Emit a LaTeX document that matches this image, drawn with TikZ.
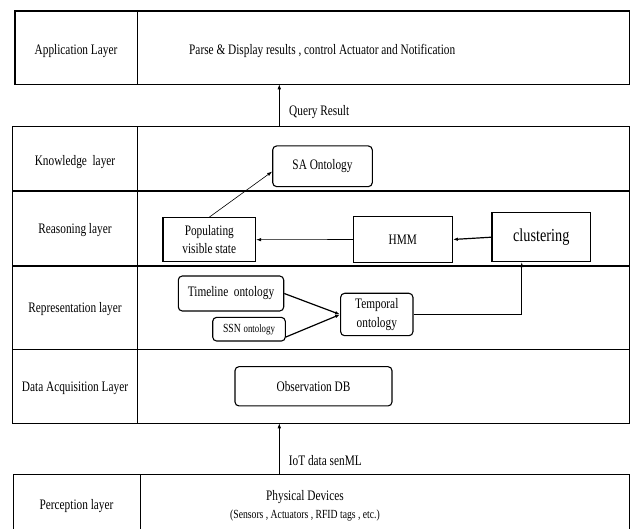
\documentclass[tikz,border=0pt]{standalone}
\usepackage{fontspec}
\setmainfont{Liberation Serif}[FakeStretch = 0.78]
\usetikzlibrary{arrows.meta}
\usetikzlibrary{calc}

\tikzset{
  layertext/.style = {font = \fontsize{14.5}{18.5}\selectfont, inner sep = 0, align = center},
  box/.style = {draw, line width = 1.1pt, inner sep = 0, align = center,
    font = \fontsize{14.5}{18.5}\selectfont},
  roundbox/.style = {box, rounded corners = 4pt},
  flow/.style = {-{Latex[length = 5pt, width = 3.5pt]}, line width = 0.6pt},
  heavyflow/.style = {flow, line width = 1.2pt}
}

\begin{document}
\begin{tikzpicture}[x = 1pt, y = -1pt]
  \useasboundingbox (0, 0) rectangle (633, 529);

  \draw[line width = 1.4pt] (15, 11) rectangle (629.7, 84.3);
  \draw[line width = 0.9pt] (137.7, 11) -- (137.7, 84.3);

  \draw[line width = 1.4pt] (12.7, 126.7) rectangle (629.7, 423.3);
  \draw[line width = 1.4pt] (12.7, 191) -- (629.7, 191) (12.7, 266) -- (629.7, 266);
  \draw[line width = 0.9pt] (12.7, 349.3) -- (629.7, 349.3);
  \draw[line width = 0.9pt] (137.7, 126.7) -- (137.7, 423.3);

  \draw[line width = 1.4pt] (13.3, 532) -- (13.3, 474.3) -- (629.7, 474.3) -- (629.7, 532);
  \draw[line width = 0.9pt] (140, 474.3) -- (140, 532);

  \node[layertext] (applbl) at (76, 50.7) {Application Layer};
  \node[layertext, anchor = west] (apptxt) at (189, 50.7)
    {Parse \& Display results , control Actuator and Notification};
  \node[layertext] (knowlbl) at (75, 161.7) {Knowledge\ \ layer};
  \node[layertext] (reaslbl) at (75, 230) {Reasoning layer};
  \node[layertext] (replbl) at (75, 309.3) {Representation layer};
  \node[layertext] (daqlbl) at (75, 388.3) {Data Acquisition Layer};
  \node[layertext] (perclbl) at (76.5, 506) {Perception layer};
  \node[layertext] (phys) at (305, 506)
    {Physical Devices\\{\fontsize{12.4}{13}\selectfont (Sensors , Actuators , RFID tags , etc.)}};

  \node[roundbox, minimum width = 99.6, minimum height = 40.7] (sa) at (322.5, 166.3) {SA Ontology};
  \node[box, minimum width = 92.7, minimum height = 44] (pop) at (209.3, 239.7) {Populating\\visible state};
  \node[box, minimum width = 99, minimum height = 45.6] (hmm) at (402.8, 239.5) {HMM};
  \node[box, minimum width = 98.7, minimum height = 49, font = \fontsize{18.3}{20}\selectfont]
    (clus) at (541.3, 237.2) {clustering};
  \node[roundbox, minimum width = 105.4, minimum height = 35] (timeline) at (231, 293.5) {Timeline\ \ ontology};
  \node[roundbox, minimum width = 72.6, minimum height = 23.7] (ssn) at (249, 329.2)
    {{\fontsize{12.4}{13}\selectfont SSN} {\fontsize{11.3}{12}\selectfont ontology}};
  \node[roundbox, minimum width = 72.3, minimum height = 42.4] (temporal) at (376.8, 314.5) {Temporal\\ontology};
  \node[roundbox, minimum width = 157, minimum height = 39.3] (obs) at (313.5, 386.3) {Observation DB};

  \coordinate (qfrom) at (279.3, 126.7);
  \coordinate (qto) at (279.3, 84.3);
  \coordinate (iotfrom) at (279.3, 474.3);
  \coordinate (iotto) at (279.3, 423.3);

  \draw[flow] (qfrom) -- (qto);
  \node[layertext, anchor = west] (qlbl) at (289, 111.7) {Query Result};
  \draw[flow] (iotfrom) -- (iotto);
  \node[layertext, anchor = west] (iotlbl) at (288.7, 461) {IoT data senML};

  \draw[flow] (pop.north) -- (sa.186);
  \draw[heavyflow] (clus.west) -- (hmm.east);
  \draw[flow] (hmm.west) -- (pop.east);
  \draw[heavyflow] (timeline.east) -- (temporal.west);
  \draw[heavyflow] (ssn.-12) -- (temporal.west);
  \draw[flow] (temporal.east) -| (clus.-128);
\end{tikzpicture}
\end{document}
